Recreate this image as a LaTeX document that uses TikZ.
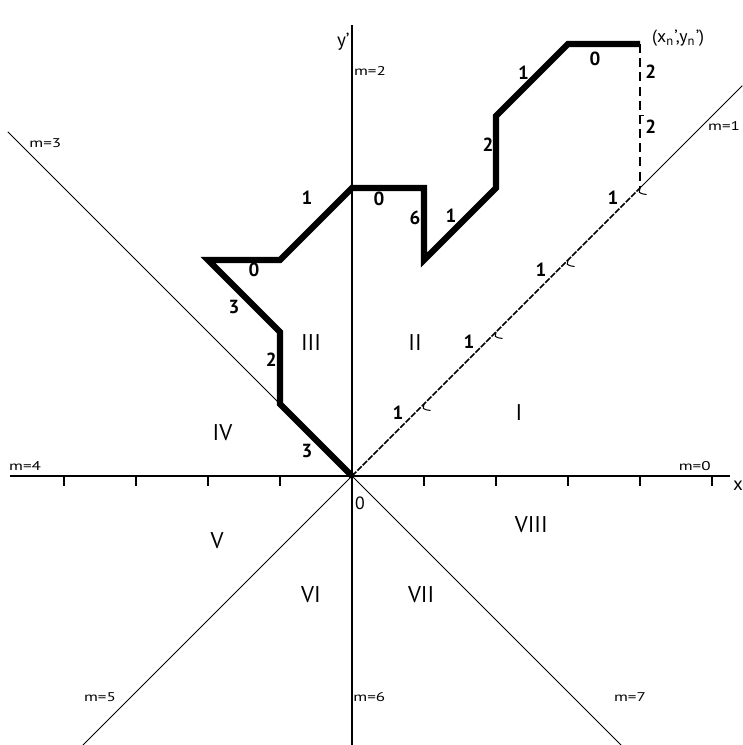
\documentclass[tikz,border=0pt]{standalone}
\usepackage{fontspec}
\setmainfont{PT Sans}
\newfontfamily\widefont[FakeStretch=1.35]{PT Sans}
\begin{document}
\begin{tikzpicture}[x=1cm, y=1cm,
    axis/.style={line width=0.5pt},
    ray/.style={line width=0.4pt},
    chain/.style={line width=2.4pt, line join=miter},
    hook/.style={line width=0.4pt},
    seg/.style={font=\bfseries\fontsize{7.5}{8}\selectfont, inner sep=0pt},
    region/.style={font=\fontsize{9}{10}\selectfont, inner sep=0pt},
    mlab/.style={font=\widefont\fontsize{5}{6}\selectfont, inner sep=0pt},
    every node/.style={text=black}
]
\useasboundingbox (-4.889,-3.736) rectangle (5.417,6.611);

% axes and the rays m=1,3,5,7
\coordinate (o)  at (0,0);
\coordinate (xl) at (-4.75,0);
\coordinate (xr) at (5.25,0);
\coordinate (yt) at (0,6.26);
\coordinate (yb) at (0,-3.74);
\coordinate (r1) at (5.42,5.42);
\coordinate (r3) at (-4.78,4.78);
\coordinate (r5) at (-3.75,-3.75);
\coordinate (r7) at (3.75,-3.75);

\draw[axis] (xl) -- (xr);
\draw[axis] (yb) -- (yt);
\foreach \i in {-4,-3,-2,-1,1,2,3,4,5}
  \draw[axis] (\i,0) -- (\i,-0.14);
\draw[ray] (o) -- (r3);
\draw[ray] (o) -- (r5);
\draw[ray] (o) -- (r7);

% diagonal with unit steps
\foreach \i in {1,...,4}
  \coordinate (d\i) at (\i,\i);
\draw[line width=0.6pt, dash pattern=on 2.4pt off 0.6pt] (o) -- (d4);
\draw[ray] (d4) -- (r1);
\foreach \i in {1,...,4}
  \draw[hook] (d\i) -- ++(-0.01,-0.06) .. controls ++(0.03,-0.02) .. ++(0.1,-0.03);

% chain code path
\coordinate (p0)  at (0,0);
\coordinate (p1)  at (-1,1);
\coordinate (p2)  at (-1,2);
\coordinate (p3)  at (-2,3);
\coordinate (p4)  at (-1,3);
\coordinate (p5)  at (0,4);
\coordinate (p6)  at (1,4);
\coordinate (p7)  at (1,3);
\coordinate (p8)  at (2,4);
\coordinate (p9)  at (2,5);
\coordinate (p10) at (3,6);
\coordinate (p11) at (4,6);
\coordinate (q5)  at (4,5);

\draw[chain] (p0) -- (p1) -- (p2) -- (p3) -- (p4) -- (p5) -- (p6)
  -- (p7) -- (p8) -- (p9) -- (p10) -- (p11);
\draw[axis, dash pattern=on 3.6pt off 2pt] (p11) -- (d4);
\draw[hook] (q5) -- ++(0.06,0);

% step labels
\node[seg] (s1)  at (-0.625,0.35) {3};
\node[seg] (s2)  at (-1.12,1.61) {2};
\node[seg] (s3)  at (-1.64,2.35) {3};
\node[seg] (s4)  at (-1.36,2.86) {0};
\node[seg] (s5)  at (-0.625,3.86) {1};
\node[seg] (s6)  at (0.375,3.85) {0};
\node[seg] (s7)  at (0.875,3.58) {6};
\node[seg] (s8)  at (1.375,3.61) {1};
\node[seg] (s9)  at (1.89,4.6) {2};
\node[seg] (s10) at (2.38,5.6) {1};
\node[seg] (s11) at (3.375,5.8) {0};
\node[seg] (s12) at (4.15,5.61) {2};
\node[seg] (s13) at (4.15,4.85) {2};
\foreach \i/\x in {1/0.64, 2/1.625, 3/2.625, 4/3.625}
  \node[seg] (t\i) at (\x,\x+0.235) {1};

% regions
\node[region] (rI)    at (2.32,0.875) {I};
\node[region] (rII)   at (0.875,1.86) {II};
\node[region] (rIII)  at (-0.57,1.86) {III};
\node[region] (rIV)   at (-1.8,0.6) {IV};
\node[region] (rV)    at (-1.875,-0.9) {V};
\node[region] (rVI)   at (-0.57,-1.65) {VI};
\node[region] (rVII)  at (0.96,-1.65) {VII};
\node[region] (rVIII) at (2.49,-0.67) {VIII};

% direction labels
\node[mlab] (m0) at (4.76,0.14) {m=0};
\node[mlab, anchor=west] (m1) at (4.94,4.86) {m=1};
\node[mlab] (m2) at (0.25,5.625) {m=2};
\node[mlab] (m3) at (-4.26,4.625) {m=3};
\node[mlab] (m4) at (-4.54,0.14) {m=4};
\node[mlab] (m5) at (-3.5,-3.07) {m=5};
\node[mlab] (m6) at (0.24,-3.07) {m=6};
\node[mlab] (m7) at (3.86,-3.07) {m=7};

\node[region, font=\fontsize{7.5}{8}\selectfont] (xlab) at (5.36,-0.14) {x};
\node[region, font=\fontsize{7.5}{8}\selectfont] (ylab) at (-0.12,6.03) {y'};
\node[region, font=\fontsize{7}{8}\selectfont] (olab) at (0.11,-0.375) {0};
\node[region, font=\fontsize{7}{8}\selectfont] (end) at (4.53,6.08) {(x$_\mathrm{n}$',y$_\mathrm{n}$')};
\end{tikzpicture}
\end{document}
